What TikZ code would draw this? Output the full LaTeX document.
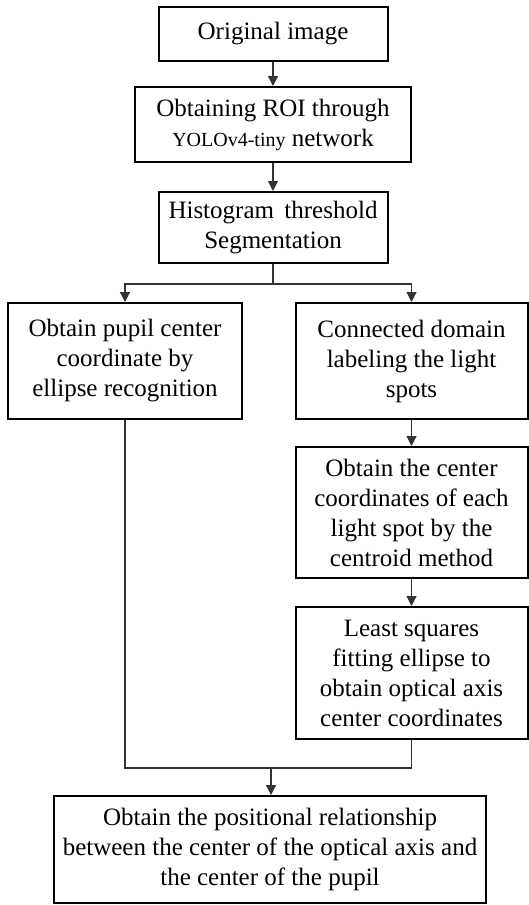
\documentclass[tikz,border=0pt]{standalone}
\usepackage{fontspec}
\setmainfont{Liberation Serif}
\usetikzlibrary{arrows.meta}
\begin{document}
\begin{tikzpicture}[x=1pt,y=1pt,
  box/.style={draw=black,line width=2pt,inner sep=0pt,align=center,
    font=\fontsize{25}{30}\selectfont},
  conn/.style={draw=black!80,line width=1.2pt},
  arr/.style={conn,-{Triangle[length=10pt,width=10pt]}}]
\useasboundingbox (0,0) rectangle (529,-905);
\node[box,minimum width=229,minimum height=54] (b1) at (273,-34) {Original image};
\node[box,minimum width=276,minimum height=75] (b2) at (273,-124.5) {Obtaining ROI through\\{\fontsize{20}{30}\selectfont YOLOv4-tiny} network};
\node[box,minimum width=229,minimum height=71] (b3) at (273,-227.5) {Histogram\, threshold\\Segmentation};
\node[box,minimum width=234,minimum height=116] (b4) at (125,-361) {Obtain pupil center\\coordinate by\\ellipse recognition};
\node[box,minimum width=232,minimum height=116] (b5) at (411.5,-361) {Connected domain\\labeling the light\\spots};
\node[box,minimum width=232,minimum height=131] (b6) at (411.5,-512.5) {Obtain the center\\coordinates of each\\light spot by the\\centroid method};
\node[box,minimum width=232,minimum height=132] (b7) at (411.5,-673) {Least squares\\fitting ellipse to\\obtain optical axis\\center coordinates};
\node[box,minimum width=432,minimum height=107] (b8) at (270,-849.5) {Obtain the positional relationship\\between the center of the optical axis and\\the center of the pupil};
\coordinate (sp) at (273,-284);
\coordinate (mg) at (271,-768);
\draw[arr] (b1.south) -- (b2.north);
\draw[arr] (b2.south) -- (b3.north);
\draw[conn] (b3.south) -- (sp);
\draw[arr] (sp) -| (b4.north);
\draw[arr] (sp) -| (b5.north);
\draw[arr] (b5.south) -- (b6.north);
\draw[arr] (b6.south) -- (b7.north);
\draw[conn] (b4.south) |- (mg) -| (b7.south);
\draw[arr] (mg) -- (mg |- b8.north);
\end{tikzpicture}
\end{document}
